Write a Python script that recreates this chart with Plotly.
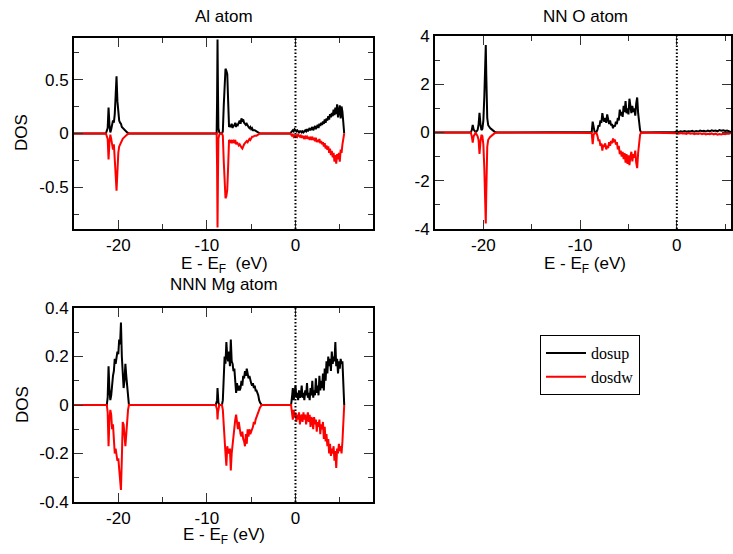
import plotly.graph_objects as go

# ---------------- data ----------------
# Al atom (top-left)
al_e = [-25, -21.4, -21.2, -21.1, -21.0, -20.9, -20.8, -20.7, -20.6, -20.5, -20.4, -20.3, -20.2, -20.1,
        -20.0, -19.9, -19.8, -19.7, -19.6, -19.5, -19.4, -19.3, -19.2, -19.1, -19.0, -18.8,
        -9.2, -8.9, -8.85, -8.8, -8.75, -8.7, -8.6, -8.5, -8.3, -8.2, -8.1, -8.0, -7.9, -7.8, -7.7,
        -7.6, -7.5, -7.4, -7.3, -7.2, -7.1, -7.0, -6.9, -6.8, -6.7, -6.6, -6.5, -6.4, -6.3, -6.2,
        -6.1, -6.0, -5.9, -5.8, -5.7, -5.6, -5.5, -5.4, -5.3, -5.2, -5.1, -5.0, -4.9, -4.8, -4.6,
        -4.4, -4.2, -4.0, -3.8,
        -1.0, -0.6, -0.5, -0.4, -0.3, -0.2, -0.1, 0.0, 0.1, 0.2, 0.3, 0.4, 0.5, 0.6, 0.7, 0.8, 0.9,
        1.0, 1.1, 1.2, 1.3, 1.4, 1.5, 1.6, 1.7, 1.8, 1.9, 2.0, 2.1, 2.2, 2.3, 2.4, 2.5, 2.6, 2.7,
        2.8, 2.9, 3.0, 3.1, 3.2, 3.3, 3.4, 3.5, 3.6, 3.7, 3.8, 3.9, 4.0, 4.1, 4.2, 4.3, 4.4, 4.5,
        4.6, 4.7, 4.8, 4.9, 5.0, 5.1, 5.2, 5.3, 5.4, 5.5]
al_up = [0, 0, 0.05, 0.24, 0.08, 0.01, 0.04, 0.08, 0.12, 0.10, 0.18, 0.35, 0.53, 0.30,
         0.15, 0.12, 0.10, 0.09, 0.06, 0.05, 0.04, 0.03, 0.03, 0.02, 0.01, 0,
         0, 0, 0.30, 0.87, 0.40, 0.05, 0.01, 0, 0, 0.02, 0.25, 0.50, 0.60, 0.58, 0.55,
         0.30, 0.06, 0.08, 0.06, 0.09, 0.05, 0.08, 0.07, 0.10, 0.06, 0.09, 0.08, 0.10, 0.12, 0.09,
         0.14, 0.12, 0.13, 0.10, 0.09, 0.08, 0.09, 0.07, 0.06, 0.05, 0.06, 0.04, 0.05, 0.03, 0.03,
         0.02, 0.01, 0, 0,
         0, 0, 0.01, 0.02, 0.03, 0.02, 0.04, 0.03, 0.02, 0.03, 0.02, 0.01, 0.02, 0.02, 0.01, 0.02, 0.01,
         0.02, 0.03, 0.02, 0.04, 0.02, 0.03, 0.05, 0.03, 0.04, 0.06, 0.03, 0.05, 0.07, 0.04, 0.06, 0.08, 0.05, 0.09,
         0.07, 0.10, 0.08, 0.11, 0.09, 0.13, 0.10, 0.14, 0.12, 0.16, 0.13, 0.18, 0.15, 0.19, 0.16, 0.22, 0.17, 0.24,
         0.18, 0.27, 0.15, 0.22, 0.26, 0.14, 0.25, 0.20, 0.05, 0]
al_dw = [0, 0, -0.05, -0.24, -0.08, -0.01, -0.05, -0.12, -0.15, -0.10, -0.20, -0.38, -0.53, -0.28,
         -0.18, -0.12, -0.10, -0.08, -0.06, -0.05, -0.04, -0.03, -0.02, -0.02, -0.01, 0,
         0, 0, -0.30, -0.87, -0.40, -0.05, -0.01, 0, 0, -0.02, -0.25, -0.50, -0.60, -0.58, -0.52,
         -0.30, -0.06, -0.07, -0.08, -0.06, -0.09, -0.07, -0.08, -0.06, -0.10, -0.08, -0.09, -0.11, -0.10, -0.12,
         -0.13, -0.14, -0.11, -0.10, -0.09, -0.08, -0.07, -0.08, -0.06, -0.05, -0.06, -0.04, -0.03, -0.03, -0.02,
         -0.02, -0.01, 0, 0,
         0, 0, -0.01, -0.02, -0.01, -0.03, -0.02, -0.04, -0.02, -0.03, -0.01, -0.02, -0.03, -0.02, -0.04, -0.02, -0.03,
         -0.05, -0.02, -0.04, -0.03, -0.05, -0.03, -0.06, -0.04, -0.05, -0.03, -0.06, -0.05, -0.07, -0.04, -0.08, -0.06, -0.08, -0.05,
         -0.09, -0.07, -0.10, -0.08, -0.12, -0.09, -0.14, -0.11, -0.15, -0.12, -0.18, -0.14, -0.20, -0.16, -0.22, -0.18, -0.26, -0.20,
         -0.28, -0.19, -0.24, -0.18, -0.26, -0.15, -0.18, -0.10, -0.04, 0]

# NN O atom (top-right)
o_e = [-25, -21.3, -21.2, -21.1, -21.0, -20.9, -20.8, -20.7, -20.6, -20.5, -20.4, -20.3, -20.2, -20.1,
       -20.0, -19.9, -19.8, -19.75, -19.7, -19.6, -19.5, -19.4, -19.3, -19.2, -19.1, -19.0, -18.9, -18.8, -18.6,
       -9.0, -8.8, -8.7, -8.6, -8.5, -8.4, -8.3, -8.2, -8.1, -8.0, -7.9, -7.8, -7.7, -7.6, -7.5, -7.4, -7.3,
       -7.2, -7.1, -7.0, -6.9, -6.8, -6.7, -6.6, -6.5, -6.4, -6.3, -6.2, -6.1, -6.0, -5.9, -5.8, -5.7, -5.6,
       -5.5, -5.4, -5.3, -5.2, -5.1, -5.0, -4.9, -4.8, -4.7, -4.6, -4.5, -4.4, -4.3, -4.2, -4.1, -4.0, -3.9,
       -3.8, -3.7, -3.5,
       -0.4, -0.2, 0.0, 0.2, 0.4, 0.6, 0.8, 1.0, 1.2, 1.4, 1.6, 1.8, 2.0, 2.2, 2.4, 2.6, 2.8, 3.0, 3.2,
       3.4, 3.6, 3.8, 4.0, 4.2, 4.4, 4.6, 4.8, 5.0, 5.2, 5.4, 5.6]
o_up = [0, 0, 0.10, 0.31, 0.12, 0.04, 0.02, 0.05, 0.10, 0.30, 0.82, 0.35, 0.10, 0.15,
        0.50, 1.50, 3.00, 3.63, 2.40, 0.60, 0.30, 0.20, 0.18, 0.15, 0.12, 0.10, 0.06, 0.02, 0,
        0, 0.02, 0.45, 0.10, 0.02, 0.01, 0.03, 0.12, 0.30, 0.25, 0.50, 0.40, 0.80, 0.55, 0.45, 0.60, 0.40,
        0.75, 0.55, 0.35, 0.50, 0.30, 0.35, 0.18, 0.30, 0.25, 0.45, 0.35, 0.60, 0.50, 0.95, 0.70, 0.85, 0.65,
        1.10, 0.85, 1.30, 0.80, 1.00, 0.75, 1.40, 0.95, 0.80, 1.10, 0.85, 1.00, 0.70, 1.20, 1.45, 0.80, 0.40,
        0.10, 0.0, 0,
        0, 0.02, 0.04, 0.02, 0.05, 0.03, 0.06, 0.03, 0.05, 0.04, 0.07, 0.03, 0.06, 0.04, 0.08, 0.05, 0.07, 0.04, 0.08,
        0.05, 0.09, 0.06, 0.08, 0.05, 0.10, 0.07, 0.09, 0.06, 0.08, 0.04, 0.02]
o_dw = [0, 0, -0.15, -0.42, -0.15, -0.05, -0.02, -0.08, -0.15, -0.30, -0.89, -0.40, -0.10, -0.15,
        -0.50, -1.50, -3.00, -3.77, -2.50, -0.60, -0.30, -0.20, -0.18, -0.15, -0.12, -0.10, -0.06, -0.02, 0,
        0, -0.02, -0.48, -0.10, -0.02, -0.01, -0.03, -0.15, -0.35, -0.30, -0.55, -0.45, -0.75, -0.50, -0.60, -0.45, -0.70,
        -0.55, -0.65, -0.40, -0.55, -0.35, -0.45, -0.25, -0.35, -0.30, -0.50, -0.40, -0.70, -0.55, -0.90, -0.75, -1.00, -0.80,
        -1.10, -0.85, -1.25, -0.90, -1.30, -0.95, -1.35, -1.00, -0.80, -1.20, -0.90, -1.05, -0.75, -1.25, -1.48, -0.85, -0.45,
        -0.10, 0.0, 0,
        0, -0.02, -0.03, -0.05, -0.02, -0.04, -0.03, -0.06, -0.02, -0.05, -0.03, -0.07, -0.04, -0.06, -0.03, -0.07, -0.04, -0.08, -0.05,
        -0.07, -0.04, -0.08, -0.05, -0.09, -0.06, -0.08, -0.05, -0.07, -0.04, -0.05, -0.02]

# NNN Mg atom (bottom-left)
mg_e = [-25, -21.3, -21.2, -21.1, -21.0, -20.9, -20.8, -20.7, -20.6, -20.5, -20.4, -20.3, -20.2, -20.1,
        -20.0, -19.9, -19.8, -19.7, -19.6, -19.5, -19.4, -19.3, -19.2, -19.1, -19.0, -18.9, -18.8, -18.6,
        -9.0, -8.85, -8.8, -8.75, -8.7, -8.6, -8.5, -8.3, -8.2, -8.1, -8.0, -7.9, -7.8, -7.7, -7.6, -7.5,
        -7.4, -7.3, -7.2, -7.1, -7.0, -6.9, -6.8, -6.7, -6.6, -6.5, -6.4, -6.3, -6.2, -6.1, -6.0, -5.9,
        -5.8, -5.7, -5.6, -5.5, -5.4, -5.3, -5.2, -5.1, -5.0, -4.9, -4.8, -4.7, -4.6, -4.5, -4.4, -4.3,
        -4.2, -4.1, -4.0, -3.8,
        -0.6, -0.5, -0.4, -0.3, -0.2, -0.1, 0.0, 0.1, 0.2, 0.3, 0.4, 0.5, 0.6, 0.7, 0.8, 0.9,
        1.0, 1.1, 1.2, 1.3, 1.4, 1.5, 1.6, 1.7, 1.8, 1.9, 2.0, 2.1, 2.2, 2.3, 2.4, 2.5, 2.6, 2.7,
        2.8, 2.9, 3.0, 3.1, 3.2, 3.3, 3.4, 3.5, 3.6, 3.7, 3.8, 3.9, 4.0, 4.1, 4.2, 4.3, 4.4, 4.5,
        4.6, 4.7, 4.8, 4.9, 5.0, 5.1, 5.2, 5.3, 5.4, 5.5]
mg_up = [0, 0, 0.03, 0.16, 0.06, 0.02, 0.04, 0.09, 0.12, 0.14, 0.19, 0.17, 0.20, 0.22,
         0.21, 0.27, 0.25, 0.34, 0.20, 0.12, 0.07, 0.10, 0.17, 0.12, 0.08, 0.03, 0.0, 0,
         0, 0.02, 0.07, 0.04, 0.01, 0, 0, 0, 0.02, 0.12, 0.20, 0.17, 0.26, 0.20, 0.18, 0.22,
         0.16, 0.27, 0.18, 0.17, 0.14, 0.15, 0.10, 0.05, 0.09, 0.06, 0.08, 0.06, 0.07, 0.10, 0.08, 0.12,
         0.11, 0.14, 0.12, 0.15, 0.13, 0.11, 0.12, 0.10, 0.09, 0.08, 0.09, 0.07, 0.08, 0.06, 0.06, 0.05,
         0.04, 0.02, 0.01, 0,
         0, 0.0, 0.03, 0.07, 0.02, 0.05, 0.08, 0.03, 0.05, 0.02, 0.06, 0.03, 0.04, 0.08, 0.03, 0.05,
         0.02, 0.06, 0.04, 0.09, 0.03, 0.05, 0.02, 0.07, 0.04, 0.10, 0.03, 0.06, 0.04, 0.11, 0.05, 0.08, 0.04, 0.12,
         0.06, 0.10, 0.07, 0.13, 0.06, 0.15, 0.10, 0.18, 0.13, 0.20, 0.16, 0.19, 0.14, 0.22, 0.17, 0.20, 0.18, 0.26,
         0.16, 0.19, 0.13, 0.18, 0.15, 0.19, 0.17, 0.18, 0.05, 0]
mg_dw = [0, 0, -0.03, -0.17, -0.06, -0.02, -0.04, -0.10, -0.08, -0.14, -0.20, -0.18, -0.20, -0.23,
         -0.22, -0.26, -0.28, -0.35, -0.22, -0.07, -0.08, -0.12, -0.17, -0.12, -0.05, -0.02, 0.0, 0,
         0, -0.02, -0.06, -0.03, -0.01, 0, 0, 0, -0.02, -0.10, -0.17, -0.20, -0.25, -0.17, -0.19, -0.20,
         -0.18, -0.27, -0.20, -0.16, -0.15, -0.10, -0.06, -0.04, -0.08, -0.10, -0.07, -0.10, -0.12, -0.13, -0.11, -0.14,
         -0.15, -0.17, -0.12, -0.16, -0.10, -0.13, -0.10, -0.12, -0.11, -0.10, -0.09, -0.07, -0.08, -0.06, -0.05, -0.04,
         -0.03, -0.02, -0.01, 0,
         0, 0.0, -0.03, -0.06, -0.02, -0.05, -0.03, -0.07, -0.04, -0.06, -0.03, -0.08, -0.05, -0.04, -0.07, -0.03,
         -0.06, -0.04, -0.08, -0.05, -0.03, -0.07, -0.04, -0.09, -0.05, -0.06, -0.10, -0.05, -0.08, -0.06, -0.11, -0.07, -0.09, -0.06,
         -0.12, -0.08, -0.10, -0.07, -0.14, -0.09, -0.15, -0.12, -0.17, -0.14, -0.20, -0.16, -0.21, -0.18, -0.20, -0.17, -0.23, -0.19,
         -0.26, -0.18, -0.20, -0.16, -0.19, -0.17, -0.20, -0.15, -0.05, 0]

x_tickvals = [-20, -10, 0]
x_ticktext = ["-20", "-10", "0"]
al_yvals = [-0.5, 0, 0.5]
al_ytext = ["-0.5", "0", "0.5"]
o_yvals = [-4, -2, 0, 2, 4]
o_ytext = ["-4", "-2", "0", "2", "4"]
mg_yvals = [-0.4, -0.2, 0, 0.2, 0.4]
mg_ytext = ["-0.4", "-0.2", "0", "0.2", "0.4"]

titles = ["Al atom", "NN O atom", "NNN Mg atom"]
series_names = ["dosup", "dosdw"]

# ---------------- figure ----------------
W, H = 733, 554
FONT = "Liberation Sans, Arial, sans-serif"

def px_x(p):
    return p / W

def px_y(p):
    return 1 - p / H

fig = go.Figure()

panels = [
    (al_e, al_up, al_dw, "x", "y"),
    (o_e, o_up, o_dw, "x2", "y2"),
    (mg_e, mg_up, mg_dw, "x3", "y3"),
]
for i, (e, up, dw, xa, ya) in enumerate(panels):
    fig.add_trace(go.Scatter(x=e, y=up, mode="lines", name=series_names[0],
                             line=dict(color="black", width=2), xaxis=xa, yaxis=ya,
                             showlegend=(i == 0)))
    fig.add_trace(go.Scatter(x=e, y=dw, mode="lines", name=series_names[1],
                             line=dict(color="#ff0000", width=2), xaxis=xa, yaxis=ya,
                             showlegend=(i == 0)))

common = dict(showline=True, linewidth=2, linecolor="black", mirror="allticks",
              ticks="inside", ticklen=9, tickwidth=1, tickcolor="#333",
              showgrid=False, zeroline=False, automargin=False,
              tickfont=dict(family=FONT, size=17, color="black"))

def xaxis(dom, rng, anchor):
    return dict(domain=dom, range=rng, anchor=anchor, tickvals=x_tickvals, ticktext=x_ticktext,
                minor=dict(tickvals=[-25, -15, -5, 5], ticks="inside", ticklen=5,
                           tickwidth=1, tickcolor="#333"), **common)

def yaxis(dom, rng, anchor, vals, text, minor_vals):
    return dict(domain=dom, range=rng, anchor=anchor, tickvals=vals, ticktext=text,
                minor=dict(tickvals=minor_vals, ticks="inside", ticklen=5,
                           tickwidth=1, tickcolor="#333"), **common)

fig.update_layout(
    width=W, height=H,
    margin=dict(l=0, r=0, t=0, b=0, pad=0, autoexpand=False),
    paper_bgcolor="white", plot_bgcolor="white",
    xaxis=xaxis([px_x(74), px_x(373)], [-25, 8.75], "y"),
    yaxis=yaxis([px_y(229), px_y(38)], [-0.885, 0.885], "x", al_yvals, al_ytext, [-0.75, -0.25, 0.25, 0.75]),
    xaxis2=xaxis([px_x(435), px_x(731)], [-25, 5.6], "y2"),
    yaxis2=yaxis([px_y(229), px_y(36)], [-4, 4], "x2", o_yvals, o_ytext, [-3, -1, 1, 3]),
    xaxis3=xaxis([px_x(74), px_x(373)], [-25, 8.75], "y3"),
    yaxis3=yaxis([px_y(502), px_y(308)], [-0.4, 0.4], "x3", mg_yvals, mg_ytext, [-0.3, -0.1, 0.1, 0.3]),
    legend=dict(x=px_x(540), y=px_y(335), xanchor="left", yanchor="top",
                bordercolor="black", borderwidth=1, bgcolor="white", itemwidth=40,
                font=dict(family="Liberation Serif, Times New Roman, serif", size=16, color="black"),
                tracegroupgap=0),
    showlegend=True,
)

# dotted Fermi-level lines
for xa, ya in [("x", "y"), ("x2", "y2"), ("x3", "y3")]:
    fig.add_shape(type="line", xref=xa, yref=ya + " domain", x0=0, x1=0, y0=0, y1=1,
                  line=dict(color="black", width=2, dash="1.5px,2px"))

tfont = dict(family=FONT, size=17, color="black")
annots = [
    (224, 17, titles[0], 0),
    (585, 17, titles[1], 0),
    (224, 284, titles[2], 0),
    (224, 265, "E - E<sub>F</sub>\u00a0 (eV)", 0),
    (585, 265, "E - E<sub>F</sub> (eV)", 0),
    (224, 536, "E - E<sub>F</sub> (eV)", 0),
    (22, 133, "DOS", -90),
    (22, 405, "DOS", -90),
]
for x, y, t, ang in annots:
    fig.add_annotation(x=px_x(x), y=px_y(y), xref="paper", yref="paper", text=t,
                       showarrow=False, textangle=ang, font=tfont,
                       xanchor="center", yanchor="middle")

fig.write_html("out.html", config={"displayModeBar": False},
               post_script="document.body.style.margin='0';document.body.style.overflow='hidden';")
